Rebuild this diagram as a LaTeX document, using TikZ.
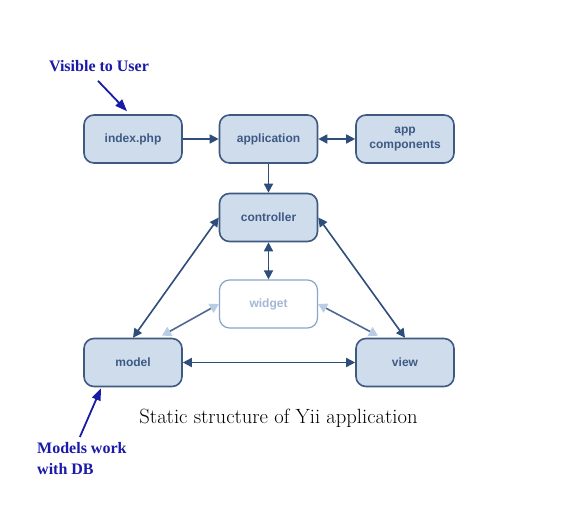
\documentclass[tikz,border=0pt]{standalone}
\usepackage{fontspec}
\setmainfont{Latin Modern Roman}
\newfontfamily\boxfont{Liberation Sans}
\newfontfamily\notefont{Liberation Serif}
\usetikzlibrary{arrows.meta}
\definecolor{boxfill}{HTML}{CFDCEC}
\definecolor{boxdraw}{HTML}{3F5A80}
\definecolor{boxtext}{HTML}{3E5A84}
\definecolor{conn}{HTML}{2F4D7A}
\definecolor{wdraw}{HTML}{8AA5CA}
\definecolor{wtext}{HTML}{A3B8D5}
\definecolor{wline}{HTML}{4E6A93}
\definecolor{whead}{HTML}{B8CCE4}
\definecolor{note}{HTML}{1A1AA8}
\tikzset{
  block/.style={draw=boxdraw, fill=boxfill, line width=1.6pt, rounded corners=10pt,
    minimum width=98pt, minimum height=48pt, align=center, text=boxtext,
    font=\boxfont\bfseries\fontsize{12}{15}\selectfont, inner sep=2pt},
  wblock/.style={block, draw=wdraw, fill=white, line width=1.2pt, text=wtext},
  conn/.style={draw=conn, line width=1.6pt, -{Triangle[length=9pt,width=9pt]}},
  bconn/.style={conn, {Triangle[length=9pt,width=9pt]}-{Triangle[length=9pt,width=9pt]}},
  wconn/.style={draw=wline, line width=1.6pt,
    {Triangle[length=9pt,width=10pt,fill=whead,color=whead]}-{Triangle[length=9pt,width=10pt,fill=whead,color=whead]}},
  notetext/.style={text=note, font=\notefont\bfseries\fontsize{16}{21}\selectfont, inner sep=0pt, align=left},
  notearrow/.style={draw=note, line width=1.8pt, -{Triangle[length=12pt,width=9pt]}}
}
\begin{document}
\begin{tikzpicture}[x=1pt,y=-1pt]
\useasboundingbox[fill=white] (0,0) rectangle (571,516);
\node[block] (index) at (133,139) {index.php};
\node[block] (app) at (268.5,139) {application};
\node[block] (comp) at (405,139) {app\\components};
\node[block] (ctrl) at (268.5,217.5) {controller};
\node[wblock] (widget) at (268.5,304) {widget};
\node[block] (model) at (133,362.5) {model};
\node[block] (view) at (405,362.5) {view};
\node[font=\fontsize{20.6}{24}\selectfont, inner sep=0pt] (cap) at (278.5,418) {Static structure of Yii application};
\node[notetext] (vis) at (99,66) {Visible to User};
\node[notetext, anchor=north west] (models) at (37,442) {Models work\\with DB};

\draw[conn] (index) -- (app);
\draw[bconn] (app) -- (comp);
\draw[conn] (app) -- (ctrl);
\draw[bconn] (ctrl) -- (widget);
\draw[bconn] (ctrl.west) -- (model.north);
\draw[bconn] (ctrl.east) -- (view.north);
\draw[bconn] (model) -- (view);
\draw[wconn] (widget.west) -- ([xshift=29pt,yshift=2pt]model.north);
\draw[wconn] (widget.east) -- ([xshift=-27pt,yshift=2pt]view.north);

\draw[notearrow] ([xshift=-1pt,yshift=-9pt]vis.south) -- ([xshift=-6pt,yshift=3pt]index.north);
\draw[notearrow] ([xshift=-2pt,yshift=5pt]models.north) -- ([xshift=-32pt,yshift=-1pt]model.south);
\end{tikzpicture}
\end{document}
